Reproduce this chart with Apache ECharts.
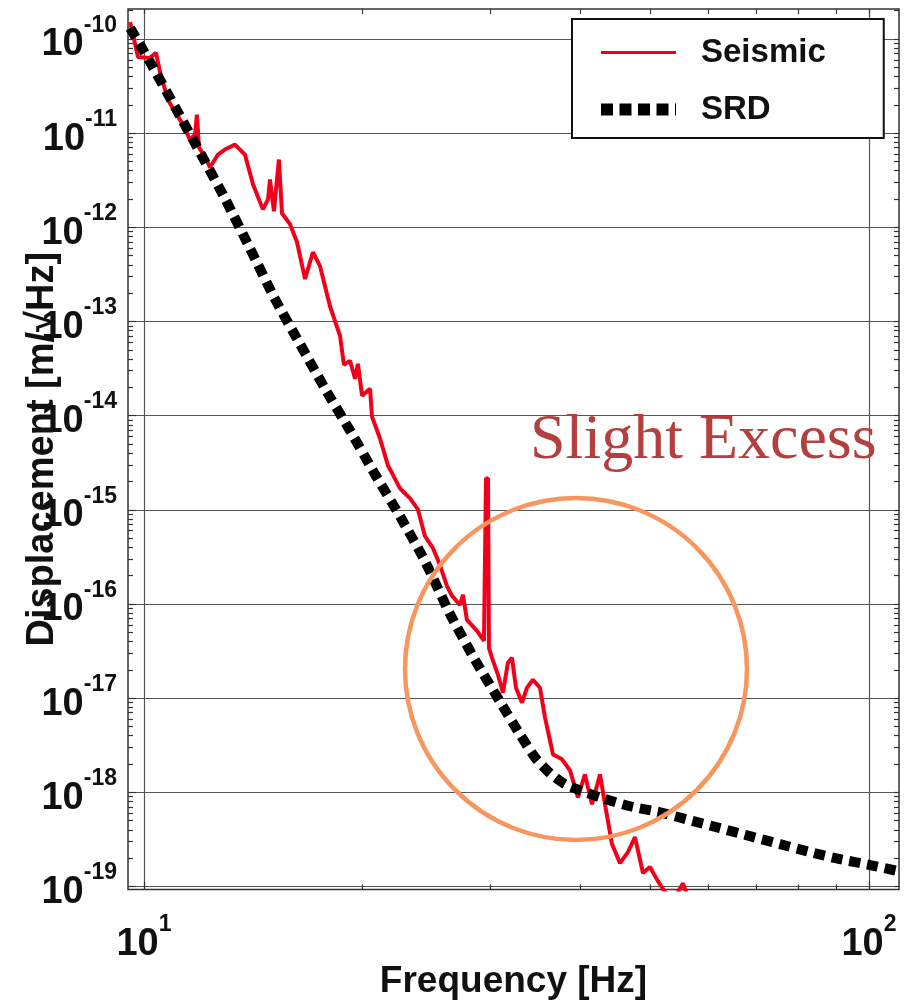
<!DOCTYPE html>
<html>
<head>
<meta charset="utf-8">
<title>Seismic vs SRD</title>
<script src="https://cdn.jsdelivr.net/npm/echarts@6/dist/echarts.min.js"></script>
<style>
  html, body { margin: 0; padding: 0; background: #fff; }
  #chart { width: 911px; height: 1008px; }
</style>
</head>
<body>
<div id="chart"></div>
<script>
// measured seismic spectrum (red)
const seismicFreq = [
  9.57, 9.66, 9.81, 10.19, 10.39, 10.52, 10.79, 11.03, 11.32, 11.57,
  11.76, 11.83, 11.91, 12.14, 12.33, 12.65, 12.93, 13.35, 13.78, 14.14,
  14.59, 14.83, 14.92, 15.11, 15.35, 15.50, 15.90, 16.26, 16.68, 17.10,
  17.49, 18.05, 18.64, 18.87, 19.24, 19.55, 19.73, 19.99, 20.50, 20.63,
  21.16, 21.70, 22.55, 23.28, 23.87, 24.41, 25.04, 25.60, 26.18, 26.60,
  27.28, 27.54, 27.89, 28.80, 29.44, 29.63, 29.82, 29.91, 30.20, 30.78,
  31.27, 31.77, 32.18, 32.59, 33.22, 33.75, 34.40, 35.17, 35.74, 36.66,
  37.72, 38.69, 39.68, 40.57, 41.49, 42.56, 43.24, 44.21, 45.35, 46.51,
  47.56, 48.78, 49.87, 51.16, 52.31, 54.00, 55.39, 56.28
];
const seismicDisp = [
  1.51e-10, 1.10e-10, 6.45e-11, 6.29e-11, 7.11e-11, 4.47e-11, 2.26e-11, 1.69e-11, 1.23e-11, 8.53e-12,
  9.64e-12, 1.57e-11, 7.02e-12, 5.64e-12, 4.31e-12, 5.92e-12, 6.69e-12, 7.55e-12, 5.92e-12, 2.85e-12,
  1.55e-12, 1.98e-12, 3.22e-12, 1.48e-12, 5.24e-12, 1.41e-12, 1.08e-12, 6.94e-13, 2.82e-13, 5.44e-13,
  3.87e-13, 1.46e-13, 7.02e-14, 3.47e-14, 3.82e-14, 2.46e-14, 3.55e-14, 1.63e-14, 1.93e-14, 9.76e-15,
  5.71e-15, 2.96e-15, 1.69e-15, 1.32e-15, 1.01e-15, 5.24e-16, 3.91e-16, 2.59e-16, 1.55e-16, 1.22e-16,
  9.76e-17, 1.25e-16, 6.77e-17, 5.18e-17, 4.06e-17, 2.15e-15, 2.15e-15, 3.42e-17, 2.68e-17, 1.77e-17,
  1.14e-17, 2.38e-17, 2.68e-17, 1.29e-17, 8.96e-18, 1.29e-17, 1.57e-17, 1.29e-17, 6.22e-18, 2.52e-18,
  2.24e-18, 1.71e-18, 8.85e-19, 1.55e-18, 7.46e-19, 1.55e-18, 7.46e-19, 2.82e-19, 1.77e-19, 2.32e-19,
  3.34e-19, 1.39e-19, 1.61e-19, 1.14e-19, 8.74e-20, 7.74e-20, 1.08e-19, 7.74e-20
];

// SRD requirement curve (black dotted)
const srdFreq = [
  9.57, 10.19, 11.03, 11.95, 12.93, 14.00, 15.16, 16.41, 17.77, 19.24,
  20.83, 22.55, 24.41, 26.43, 28.61, 30.98, 33.01, 34.62, 36.31, 38.08,
  39.94, 42.56, 46.81, 51.48, 56.64, 62.30, 68.53, 75.38, 82.92, 91.20,
  100.3, 109.6
];
const srdDisp = [
  1.31e-10, 5.71e-11, 1.91e-11, 6.22e-12, 2.03e-12, 5.99e-13, 1.73e-13, 5.78e-14, 1.93e-14, 6.94e-15,
  2.38e-15, 8.53e-16, 2.85e-16, 7.84e-17, 2.55e-17, 9.18e-18, 4.11e-18, 2.35e-18, 1.59e-18, 1.22e-18,
  1.05e-18, 8.85e-19, 7.11e-19, 6.14e-19, 5.05e-19, 4.16e-19, 3.42e-19, 2.82e-19, 2.32e-19, 1.95e-19,
  1.69e-19, 1.46e-19
];

// axis ranges and ticks
const xMin = 9.505, xMax = 110;
const yMin = 0.929e-19, yMax = 2.08e-10;
const xMajorTicks = [10, 100];
const xMinorTicks = [20, 30, 40, 50, 60, 70, 80, 90];
const yMajorTicks = [1e-19, 1e-18, 1e-17, 1e-16, 1e-15, 1e-14, 1e-13, 1e-12, 1e-11, 1e-10];
const yMinorTicks = [];
yMajorTicks.forEach((d) => {
  for (let k = 2; k <= 9; k++) {
    if (k * d <= yMax) yMinorTicks.push(k * d);
  }
});

const FONT = "'Liberation Sans', Arial, sans-serif";
const tickColor = "#333";

// "10" with a raised exponent; the spacer token makes the line tall
// enough for the exponent to sit above the digits
const powLabel = {
  formatter: (v) => "{s| }{b|10}{e|" + Math.round(Math.log10(v)) + "}",
  rich: {
    s: { fontSize: 1, lineHeight: 50, width: 0 },
    b: { fontSize: 38, fontWeight: "bold", fontFamily: FONT, color: "#111", lineHeight: 38, verticalAlign: "bottom" },
    e: { fontSize: 23, fontWeight: "bold", fontFamily: FONT, color: "#111", lineHeight: 20, verticalAlign: "top" },
  },
};

function tickAxis(type, min, max, position, ticks, len) {
  return {
    type: type,
    min: min,
    max: max,
    position: position,
    axisLine: { show: false },
    axisTick: { show: true, inside: true, length: len, customValues: ticks, lineStyle: { color: tickColor, width: 1.2 } },
    axisLabel: { show: false },
    splitLine: { show: false },
  };
}

const chart = echarts.init(document.getElementById("chart"));
chart.setOption({
  animation: false,
  backgroundColor: "#fff",
  grid: {
    left: 128,
    right: 12,
    top: 9,
    bottom: 118.5,
    outerBoundsMode: "none",
    show: true,
    borderColor: "#333",
    borderWidth: 1.5,
  },
  legend: {
    orient: "vertical",
    left: 572,
    top: 19,
    padding: [17, 58, 12, 23],
    itemGap: 24,
    itemWidth: 75,
    itemHeight: 14,
    borderColor: "#111",
    borderWidth: 2,
    backgroundColor: "#fff",
    textStyle: { fontSize: 33, fontWeight: "bold", fontFamily: FONT, color: "#111", lineHeight: 32, padding: [0, 0, 0, 20] },
    data: [
      { name: "Seismic", itemStyle: { opacity: 0 }, lineStyle: { width: 3 } },
      { name: "SRD", itemStyle: { opacity: 0 }, lineStyle: { width: 12, type: [12, 6.5], cap: "butt" } },
    ],
  },
  xAxis: [
    {
      type: "log",
      min: xMin,
      max: xMax,
      position: "bottom",
      name: "Frequency [Hz]",
      nameLocation: "middle",
      nameGap: 74,
      nameMoveOverlap: false,
      nameTextStyle: { fontSize: 37, fontWeight: "bold", fontFamily: FONT, color: "#111" },
      axisLine: { show: false },
      axisTick: { show: true, inside: true, length: 8, customValues: xMajorTicks, lineStyle: { color: tickColor, width: 1.2 } },
      axisLabel: Object.assign({ customValues: xMajorTicks, margin: 24 }, powLabel),
      splitLine: { show: true, lineStyle: { color: "#555", width: 1.2 } },
    },
    tickAxis("log", xMin, xMax, "bottom", xMinorTicks, 5),
    tickAxis("log", xMin, xMax, "top", xMajorTicks.concat(xMinorTicks), 5),
  ],
  yAxis: [
    {
      type: "log",
      min: yMin,
      max: yMax,
      position: "left",
      name: "Displacement [m/\u221AHz]",
      nameLocation: "middle",
      nameGap: 66,
      nameMoveOverlap: false,
      nameTextStyle: { fontSize: 38, fontWeight: "bold", fontFamily: FONT, color: "#111" },
      axisLine: { show: false },
      axisTick: { show: true, inside: true, length: 8, customValues: yMajorTicks, lineStyle: { color: tickColor, width: 1.2 } },
      axisLabel: Object.assign({ customValues: yMajorTicks, margin: 11 }, powLabel),
      splitLine: { show: true, lineStyle: { color: "#555", width: 1.2 } },
    },
    tickAxis("log", yMin, yMax, "left", yMinorTicks, 5),
    tickAxis("log", yMin, yMax, "right", yMajorTicks.concat(yMinorTicks), 5),
  ],
  series: [
    {
      name: "Seismic",
      type: "line",
      xAxisIndex: 0,
      yAxisIndex: 0,
      data: seismicFreq.map((f, i) => [f, seismicDisp[i]]),
      symbol: "none",
      clip: true,
      color: "#f0001a",
      lineStyle: { color: "#f0001a", width: 4 },
    },
    {
      name: "SRD",
      type: "line",
      xAxisIndex: 0,
      yAxisIndex: 0,
      data: srdFreq.map((f, i) => [f, srdDisp[i]]),
      symbol: "none",
      smooth: 0.2,
      clip: true,
      color: "#000",
      lineStyle: { color: "#000", width: 10, type: [11, 7], cap: "butt" },
    },
  ],
  graphic: [
    {
      type: "circle",
      z: 100,
      shape: { cx: 576, cy: 669, r: 171 },
      style: { fill: "none", stroke: "#f7965f", lineWidth: 4.5 },
    },
    {
      type: "text",
      z: 100,
      x: 530,
      y: 441,
      style: {
        text: "Slight Excess",
        fontSize: 64,
        fontFamily: "'Liberation Serif', 'Times New Roman', serif",
        fill: "#b3403f",
        align: "left",
        verticalAlign: "middle",
      },
    },
  ],
});
</script>
</body>
</html>
